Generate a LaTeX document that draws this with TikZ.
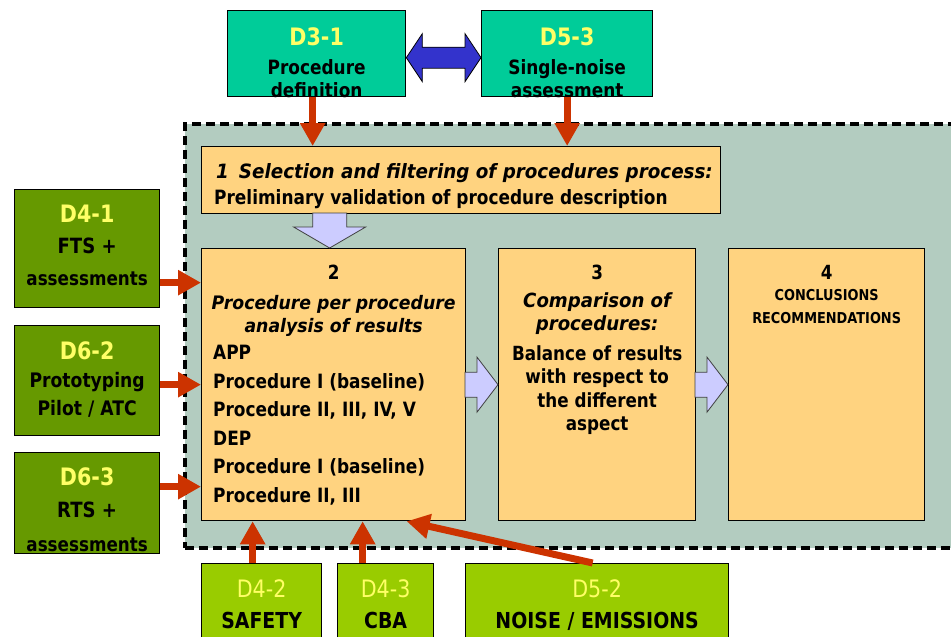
\documentclass[tikz,border=0pt]{standalone}
\usepackage{fontspec}
\setmainfont{DejaVu Sans}[FakeStretch=0.86,
  ItalicFeatures={FakeStretch=0.93}, BoldItalicFeatures={FakeStretch=0.93}]
\usetikzlibrary{arrows.meta,positioning}

\definecolor{tealbox}{RGB}{0,204,153}
\definecolor{olivebox}{RGB}{102,153,0}
\definecolor{limebox}{RGB}{153,204,0}
\definecolor{titleyel}{RGB}{255,255,102}
\definecolor{stagebg}{RGB}{179,204,192}
\definecolor{stagebox}{RGB}{255,211,128}
\definecolor{flowfill}{RGB}{204,204,255}
\definecolor{linkfill}{RGB}{51,51,204}
\definecolor{inred}{RGB}{204,51,0}

\newcommand{\fsz}[2]{\fontsize{#1}{#2}\selectfont}

\tikzset{
  box/.style={draw=black, line width=1.3pt, inner sep=0pt, anchor=north west},
  topbox/.style={box, fill=tealbox, minimum height=86pt},
  sidebox/.style={box, fill=olivebox, minimum width=145pt},
  lowbox/.style={box, fill=limebox, minimum height=90pt},
  stagebox/.style={box, fill=stagebox, minimum height=272pt},
  lbl/.style={inner sep=0pt, align=center, font=\bfseries},
  ttl/.style={lbl, text=titleyel, font=\bfseries\fsz{24}{26}},
  inflow/.style={draw=inred, line width=7pt, -{Triangle[length=23pt,width=24pt]}},
  flow/.style={draw=black!75, line width=0.8pt, fill=flowfill},
  link/.style={draw=black, line width=0.8pt, fill=linkfill}
}

\begin{document}
\begin{tikzpicture}[x=1pt,y=-1pt]
  \useasboundingbox (0,0) rectangle (951,637);
  % work package area
  \node[box, draw=black, line width=3.5pt, dash pattern=on 9pt off 5pt, fill=stagebg,
        minimum width=790pt, minimum height=424pt] (area) at (183,122) {};

  % input deliverables
  \node[topbox, minimum width=178pt] (d31) at (227,10) {};
  \node[topbox, minimum width=171pt] (d53) at (481,10) {};
  \node[sidebox, minimum height=118pt] (d41) at (14,189) {};
  \node[sidebox, minimum height=110pt] (d62) at (14,325) {};
  \node[sidebox, minimum height=101pt] (d63) at (14,452) {};
  \node[lowbox, minimum width=120pt] (d42) at (201,563) {};
  \node[lowbox, minimum width=96pt] (d43) at (337,563) {};
  \node[lowbox, minimum width=263pt] (d52) at (465,563) {};

  % process steps
  \node[box, fill=stagebox, minimum width=519pt, minimum height=67pt] (s1) at (201,146) {};
  \node[stagebox, minimum width=264pt] (s2) at (201,248) {};
  \node[stagebox, minimum width=197pt] (s3) at (498,248) {};
  \node[stagebox, minimum width=196pt] (s4) at (728,248) {};

  % labels
  \node[ttl, below=17pt of d31.north] (d31a) {D3-1};
  \node[lbl, below=49pt of d31.north, font=\bfseries\fsz{19.7}{23}] (d31b) {Procedure\\definition};
  \node[ttl, below=17pt of d53.north] (d53a) {D5-3};
  \node[lbl, below=49pt of d53.north, font=\bfseries\fsz{19.7}{23}] (d53b) {Single-noise\\assessment};
  \node[ttl, below=16pt of d41.north] (d41a) {D4-1};
  \node[lbl, below=49pt of d41.north, font=\bfseries\fsz{21}{32}] (d41b) {FTS +\\\fsz{19.5}{32}assessments};
  \node[ttl, below=16pt of d62.north] (d62a) {D6-2};
  \node[lbl, below=47pt of d62.north, font=\bfseries\fsz{20}{28}] (d62b) {Prototyping\\Pilot / ATC};
  \node[ttl, below=15pt of d63.north] (d63a) {D6-3};
  \node[lbl, below=50pt of d63.north, font=\bfseries\fsz{21}{34}] (d63b) {RTS +\\\fsz{19.5}{34}assessments};
  \node[ttl, font=\mdseries\fsz{24}{26}, below=16pt of d42.north] (d42a) {D4-2};
  \node[lbl, below=49pt of d42.north, font=\bfseries\fsz{22}{26}] (d42b) {SAFETY};
  \node[ttl, font=\mdseries\fsz{24}{26}, below=16pt of d43.north] (d43a) {D4-3};
  \node[lbl, below=49pt of d43.north, font=\bfseries\fsz{22}{26}] (d43b) {CBA};
  \node[ttl, font=\mdseries\fsz{24}{26}, below=16pt of d52.north] (d52a) {D5-2};
  \node[lbl, below=49pt of d52.north, font=\bfseries\fsz{22}{26}] (d52b) {NOISE / EMISSIONS};

  \node[lbl, align=left, anchor=north west, font=\bfseries\fsz{19.7}{26}] (s1t)
    at ([xshift=15pt,yshift=-17pt]s1.north west)
    {\itshape 1\hspace{10pt}Selection and filtering of procedures process:\\
     \upshape\hspace{-2pt}Preliminary validation of procedure description};
  \node[lbl, below=17pt of s2.north, font=\bfseries\fsz{18.6}{23}] (s2t)
    {\fsz{19.5}{23}2\\[7pt]\itshape Procedure per procedure\\\itshape analysis of results};
  \node[lbl, align=left, anchor=north west, font=\bfseries\fsz{19.7}{28.6}] (s2l)
    at ([xshift=12pt,yshift=-97pt]s2.north west)
    {APP\\Procedure I (baseline)\\Procedure II, III, IV, V\\DEP\\Procedure I (baseline)\\Procedure II, III};
  \node[lbl, below=17pt of s3.north, font=\bfseries\fsz{19.5}{23}] (s3t)
    {3\\[5pt]\itshape Comparison of\\\itshape procedures:};
  \node[lbl, below=97pt of s3.north, font=\bfseries\fsz{19.5}{23.5}] (s3b)
    {Balance of results\\with respect to\\the different\\aspect};
  \node[lbl, below=17pt of s4.north, font=\bfseries\fsz{19.5}{23}] (s4t)
    {4\\[-2pt]\fsz{15}{23}CONCLUSIONS\\\fsz{15}{23}RECOMMENDATIONS};

  % flow between steps
  \draw[flow] ([xshift=-4pt]s2.north) -- ++(-36,-21) -- ++(19,0) -- ++(0,-14)
    -- ++(34,0) -- ++(0,14) -- ++(19,0) -- cycle;
  \draw[flow] (s3.west) -- ++(-21,-27.5) -- ++(0,15) -- ++(-12,0) -- ++(0,25)
    -- ++(12,0) -- ++(0,15) -- cycle;
  \draw[flow] (s4.west) -- ++(-21,-27.5) -- ++(0,15) -- ++(-12,0) -- ++(0,25)
    -- ++(12,0) -- ++(0,15) -- cycle;

  % link between D3-1 and D5-3
  \coordinate (lk1) at ([yshift=-4pt]d31.east);
  \coordinate (lk2) at ([yshift=-4pt]d53.west);
  \draw[link] (lk1) -- ++(16,-24) -- ++(0,13.5) -- ([xshift=-16pt,yshift=10.5pt]lk2)
    -- ++(0,-13.5) -- (lk2) -- ++(-16,24) -- ++(0,-13.5)
    -- ([xshift=16pt,yshift=-10.5pt]lk1) -- ++(0,13.5) -- cycle;

  % inputs
  \draw[inflow] ([xshift=-4pt]d31.south) -- ([xshift=-4pt]d31.south |- s1.north);
  \draw[inflow] (d53.south) -- (d53.south |- s1.north);
  \draw[inflow] ([yshift=-34pt]d41.east) -- ([yshift=-34pt]d41.east -| s2.west);
  \draw[inflow] ([yshift=-4pt]d62.east) -- ([yshift=-4pt]d62.east -| s2.west);
  \draw[inflow] ([yshift=16.5pt]d63.east) -- ([yshift=16.5pt]d63.east -| s2.west);
  \draw[inflow] ([xshift=-9pt]d42.north) -- ([xshift=-9pt]d42.north |- s2.south);
  \draw[inflow] ([xshift=-23pt]d43.north) -- ([xshift=-23pt]d43.north |- s2.south);
  \draw[inflow] ([xshift=-4.5pt]d52.north) -- ([xshift=73pt]s2.south);
\end{tikzpicture}
\end{document}
